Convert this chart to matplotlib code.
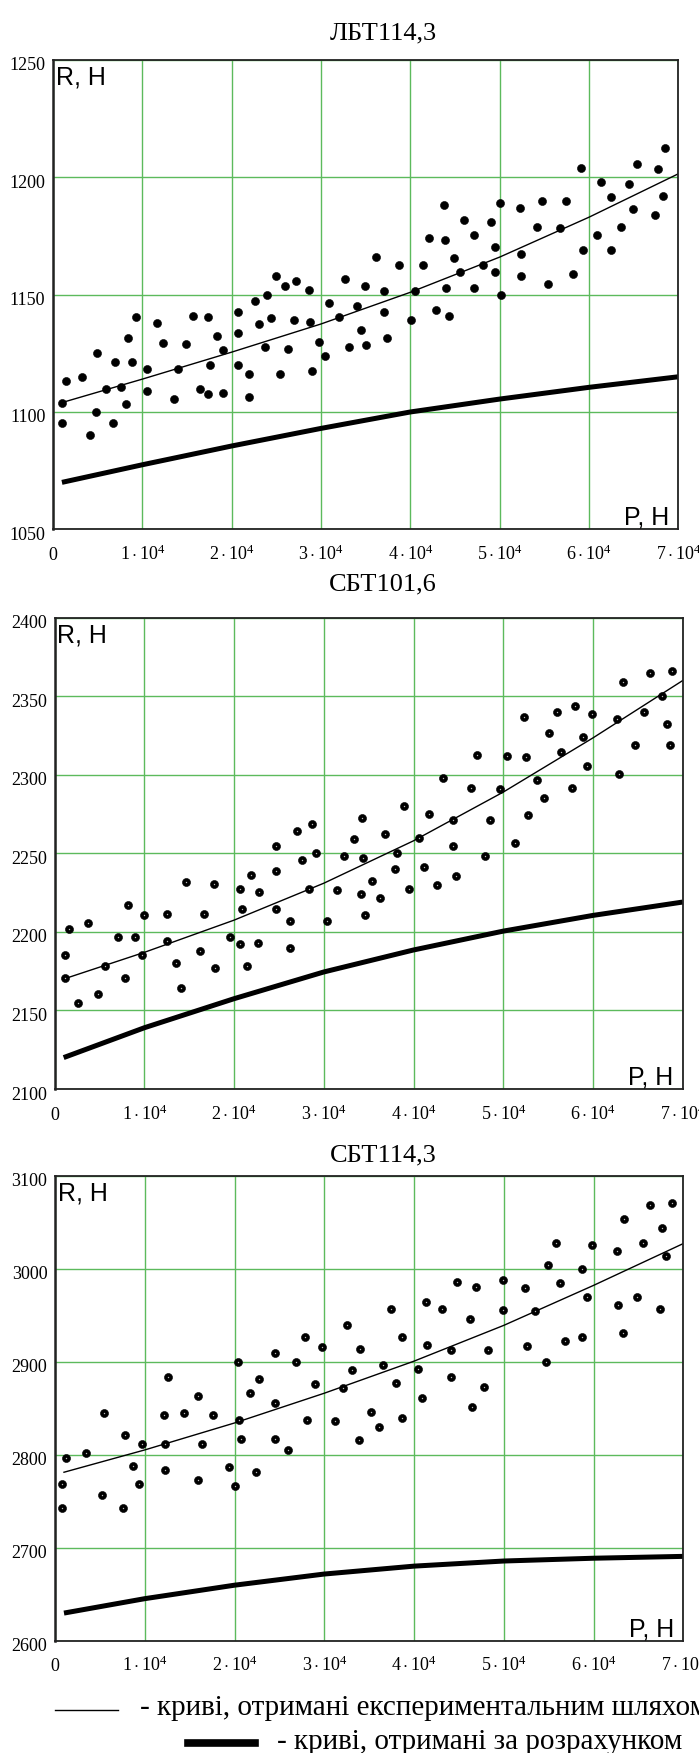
import matplotlib
matplotlib.use('Agg')
import matplotlib.pyplot as plt
from matplotlib.lines import Line2D
from matplotlib.transforms import ScaledTranslation

plt.rcParams['font.family'] = ['Liberation Serif', 'DejaVu Serif']
plt.rcParams['mathtext.fontset'] = 'custom'
plt.rcParams['mathtext.rm'] = 'Liberation Serif'
plt.rcParams['mathtext.it'] = 'Liberation Serif:italic'
plt.rcParams['mathtext.bf'] = 'Liberation Serif:bold'

# ---- data ----
titles = ['ЛБТ114,3', 'СБТ101,6', 'СБТ114,3']

p_ticks = [0, 10000, 20000, 30000, 40000, 50000, 60000, 70000]
p_tick_labels = ['0'] + [r'$%d\cdot10^4$' % k for k in range(1, 8)]

r_ticks_top = [1050, 1100, 1150, 1200, 1250]
r_ticks_mid = [2100, 2150, 2200, 2250, 2300, 2350, 2400]
r_ticks_bot = [2600, 2700, 2800, 2900, 3000, 3100]

# ЛБТ114,3 experimental points
p_pts_top = [1050, 1050, 1420, 3220, 4160, 4790, 4910, 5960, 6670, 6890,
             7570, 8200, 8390, 8840, 9330, 10560, 10560, 11650, 12320, 13600,
             14010, 14940, 15620, 16440, 17380, 17380, 17570, 18390, 18990, 19060,
             20670, 20670, 20670, 21990, 21990, 22660, 23070, 23710, 24010, 24380,
             24910, 25430, 25920, 26330, 27000, 27230, 28610, 28760, 28950, 29780,
             30490, 30900, 32060, 32660, 33110, 34010, 34460, 34940, 35000, 36200,
             37020, 37020, 37390, 38770, 40080, 40520, 41420, 42050, 42910, 43730,
             43840, 43990, 44320, 44850, 45550, 45960, 47080, 47120, 48130, 49060,
             49470, 49470, 49990, 50140, 52300, 52410, 52410, 54160, 54760, 55430,
             56770, 57440, 58260, 59080, 59380, 60910, 61320, 62510, 62510, 63560,
             64450, 64900, 65350, 67400, 67690, 68250, 68480]
r_pts_top = [1104, 1095.5, 1113, 1115, 1090, 1100, 1125, 1110, 1095.5, 1121.5,
             1110.5, 1103.5, 1131.5, 1121.5, 1140.5, 1118.5, 1109, 1138, 1129.5, 1105.5,
             1118.5, 1129, 1141, 1110, 1140.5, 1107.5, 1120, 1132.5, 1108, 1126.5,
             1142.5, 1133.5, 1120, 1116, 1106.5, 1147.5, 1137.5, 1127.5, 1150, 1140,
             1158, 1116, 1153.5, 1127, 1139, 1156, 1152, 1138.5, 1117.5, 1130,
             1124, 1146.5, 1140.5, 1156.5, 1127.5, 1145, 1135, 1153.5, 1128.5, 1166,
             1151.5, 1142.5, 1131.5, 1162.5, 1139, 1151.5, 1162.5, 1174, 1143.5, 1188,
             1173.5, 1153, 1141, 1165.5, 1159.5, 1182, 1175.5, 1153, 1162.5, 1181,
             1170.5, 1159.5, 1189, 1150, 1187, 1167.5, 1158, 1179, 1190, 1154.5,
             1178.5, 1190, 1159, 1204, 1169, 1175.5, 1198, 1191.5, 1169, 1179,
             1197, 1186.5, 1205.5, 1184, 1203.5, 1192, 1212.5]

# СБТ101,6 experimental points
p_pts_mid = [1120, 1150, 1640, 2640, 3760, 4870, 5650, 7030, 7880, 8140,
             9000, 9740, 10000, 12530, 12570, 13570, 14050, 14610, 16210, 16690,
             17810, 17840, 19590, 20710, 20710, 20930, 21450, 21930, 22640, 22790,
             24680, 24680, 24680, 26210, 26210, 27030, 27580, 28290, 28660, 29150,
             30370, 31490, 32230, 33310, 34090, 34240, 34350, 34610, 35420, 36280,
             36800, 37910, 38210, 38880, 39440, 40560, 41120, 41680, 42610, 43320,
             44360, 44430, 44730, 46410, 47110, 47930, 48490, 49610, 50390, 51320,
             52330, 52480, 52740, 53710, 54560, 55050, 56020, 56430, 57690, 58030,
             58850, 59370, 59930, 62720, 62870, 63320, 64660, 65700, 66370, 67710,
             68230, 68640, 68860]
r_pts_mid = [2185.5, 2170.5, 2202, 2154.5, 2205.5, 2160.5, 2178.5, 2196.5, 2170.5, 2217,
             2197, 2185, 2211, 2211.5, 2194.5, 2180, 2164.5, 2231.5, 2188, 2211.5,
             2230.5, 2177, 2196.5, 2227.5, 2192.5, 2214.5, 2178, 2236.5, 2193, 2225.5,
             2254.5, 2238.5, 2214.5, 2207, 2190, 2264, 2245.5, 2227, 2268.5, 2250,
             2207, 2226.5, 2248, 2259, 2224, 2272.5, 2247, 2210.5, 2232.5, 2221.5,
             2262, 2240, 2250.5, 2280, 2227, 2260, 2241.5, 2275, 2230, 2298,
             2254.5, 2271.5, 2235.5, 2291.5, 2312.5, 2248, 2271.5, 2291, 2312, 2256.5,
             2337, 2311.5, 2274.5, 2296.5, 2285.5, 2326.5, 2340, 2314.5, 2291.5, 2343.5,
             2324, 2305.5, 2339, 2335.5, 2300.5, 2359, 2319, 2340, 2364.5, 2350,
             2332.5, 2319, 2366]

# СБТ114,3 experimental points
p_pts_bot = [820, 820, 1260, 3460, 5240, 5470, 7580, 7840, 8740, 9410,
             9670, 12190, 12270, 12270, 12640, 14350, 15910, 15950, 16430, 17550,
             19330, 20070, 20370, 20480, 20710, 21750, 22420, 22710, 24460, 24460,
             24460, 25990, 26800, 27840, 28030, 28920, 29740, 31230, 32050, 32490,
             33120, 33870, 34010, 35230, 36130, 36570, 37470, 38030, 38660, 38700,
             40410, 40890, 41300, 41490, 43130, 44100, 44130, 44840, 46220, 46440,
             46930, 47750, 48270, 49870, 49870, 52330, 52550, 53520, 54750, 54900,
             55870, 56310, 56830, 58660, 58700, 59220, 59780, 62570, 62720, 63240,
             63430, 64840, 65550, 66260, 67410, 67640, 68120, 68750]
r_pts_bot = [2743, 2768.5, 2796.5, 2802, 2757, 2845, 2743, 2821.5, 2788, 2768,
             2811, 2842.5, 2811.5, 2783.5, 2883.5, 2844.5, 2772.5, 2863, 2811.5, 2843,
             2787, 2766, 2900, 2837.5, 2817, 2866.5, 2781.5, 2881.5, 2909.5, 2856,
             2817, 2805, 2899.5, 2926.5, 2837.5, 2875.5, 2915.5, 2836.5, 2872, 2939,
             2891.5, 2816, 2913.5, 2846, 2829.5, 2896.5, 2956.5, 2876.5, 2839.5, 2927,
             2892.5, 2861, 2964.5, 2918, 2956.5, 2912, 2883, 2986, 2945.5, 2851,
             2980.5, 2872.5, 2912, 2955.5, 2988, 2979.5, 2917, 2954, 2900, 3004,
             3027.5, 2984.5, 2922, 3000, 2926, 2969.5, 3025.5, 3019.5, 2960.5, 2931,
             3053.5, 2970, 3027.5, 3068.5, 2956.5, 3044, 3014, 3071]

# curves sampled along P
p_curve = [1000, 10000, 20000, 30000, 40000, 50000, 60000, 70000]
r_exp_top = [1104, 1114, 1125.5, 1137.5, 1151, 1166, 1183, 1201.5]
r_calc_top = [1070, 1077.5, 1085.5, 1093, 1100, 1105.5, 1110.5, 1115]
r_exp_mid = [2170, 2187, 2207.5, 2231, 2258, 2289, 2323.5, 2360]
r_calc_mid = [2120, 2139, 2157.5, 2174.5, 2188.5, 2200.5, 2210.5, 2219]
r_exp_bot = [2781, 2805, 2834, 2866, 2900.5, 2939, 2982, 3027]
r_calc_bot = [2629.5, 2645, 2659.5, 2671.5, 2680, 2685.5, 2688.5, 2690.5]

legend_exp = '- криві, отримані експериментальним шляхом'
legend_calc = '- криві, отримані за розрахунком'

# ---- figure ----
W, H = 699, 1753
fig = plt.figure(figsize=(W / 100, H / 100), dpi=100)

GRID = '#5cba5c'


def px_rect(left, top, right, bottom):
    return [left / W, 1 - bottom / H, (right - left) / W, (bottom - top) / H]


panels = [
    dict(rect=px_rect(53, 60, 678.3, 529.3), title=titles[0], title_y=39,
         pts=(p_pts_top, r_pts_top), exp=r_exp_top, calc=r_calc_top,
         yticks=r_ticks_top, hollow=False),
    dict(rect=px_rect(54.7, 617.7, 682.7, 1089), title=titles[1], title_y=590,
         pts=(p_pts_mid, r_pts_mid), exp=r_exp_mid, calc=r_calc_mid,
         yticks=r_ticks_mid, hollow=True),
    dict(rect=px_rect(55, 1175.7, 683.3, 1640.5), title=titles[2], title_y=1161,
         pts=(p_pts_bot, r_pts_bot), exp=r_exp_bot, calc=r_calc_bot,
         yticks=r_ticks_bot, hollow=True),
]

shift = ScaledTranslation(0, -0.04, fig.dpi_scale_trans)

for pn in panels:
    ax = fig.add_axes(pn['rect'])
    ax.set_xlim(p_ticks[0], p_ticks[-1])
    ax.set_ylim(pn['yticks'][0], pn['yticks'][-1])
    ax.set_axisbelow(True)
    ax.grid(True, color=GRID, lw=1.0)

    ax.plot(p_curve, pn['calc'], color='black', lw=3.6, solid_capstyle='butt')
    ax.plot(p_curve, pn['exp'], color='black', lw=1.0)
    ax.plot(pn['pts'][0], pn['pts'][1], 'o', color='black', ms=5.8, mec='black', mew=0.4)
    if pn['hollow']:
        ax.plot(pn['pts'][0], pn['pts'][1], 'o', color='#bbbbbb', ms=1.0, mew=0)

    ax.set_xticks(p_ticks)
    ax.set_xticklabels(p_tick_labels, fontsize=13)
    ax.set_yticks(pn['yticks'])
    ax.set_yticklabels([str(v) for v in pn['yticks']], fontsize=13)
    ax.tick_params(axis='both', length=0)
    ax.tick_params(axis='x', pad=22)
    ax.tick_params(axis='y', pad=5.5)
    for lab in ax.get_xticklabels():
        lab.set_va('baseline')
    for lab in ax.get_yticklabels():
        lab.set_transform(lab.get_transform() + shift)

    for side in ['top', 'bottom', 'left', 'right']:
        ax.spines[side].set_color('#222222')
        ax.spines[side].set_linewidth(1.3)
    ax.spines['left'].set_linewidth(1.8)

    ax.annotate('R, H', xy=(0, 1), xycoords='axes fraction', xytext=(1.8, -17.6),
                textcoords='offset points', ha='left', va='baseline',
                fontsize=18, family='Liberation Sans')
    ax.annotate('P, H', xy=(1, 0), xycoords='axes fraction', xytext=(-6.5, 3.2),
                textcoords='offset points', ha='right', va='baseline',
                fontsize=18, family='Liberation Sans')

    fig.text(383 / W, 1 - pn['title_y'] / H, pn['title'], ha='center', va='baseline',
             fontsize=19)

# legend at the bottom
fig.add_artist(Line2D([55 / W, 118 / W], [1 - 1710 / H] * 2, color='black', lw=1.0))
fig.add_artist(Line2D([188 / W, 255 / W], [1 - 1742.5 / H] * 2, color='black', lw=5.5))
fig.text(140 / W, 1 - 1715 / H, legend_exp, ha='left', va='baseline', fontsize=21)
fig.text(277 / W, 1 - 1749 / H, legend_calc, ha='left', va='baseline', fontsize=21)

fig.savefig('out.png', dpi=100)
